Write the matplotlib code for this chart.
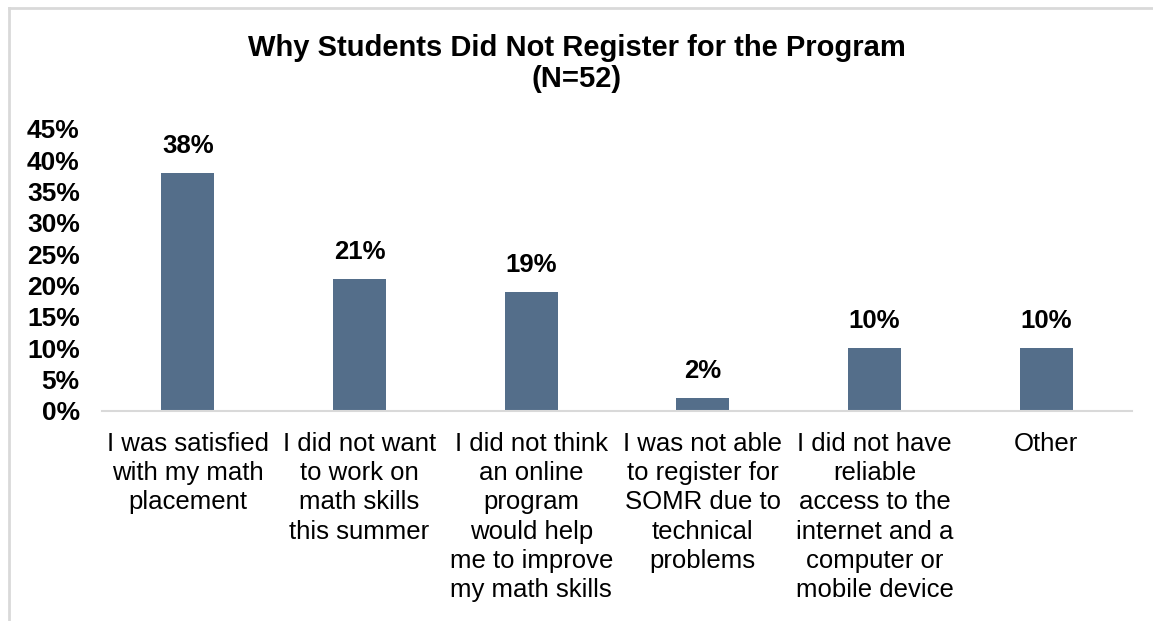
import matplotlib
matplotlib.use("Agg")
import matplotlib.pyplot as plt
from matplotlib.lines import Line2D

plt.rcParams['font.family'] = ['Liberation Sans', 'DejaVu Sans']

categories = [
    "I was satisfied\nwith my math\nplacement",
    "I did not want\nto work on\nmath skills\nthis summer",
    "I did not think\nan online\nprogram\nwould help\nme to improve\nmy math skills",
    "I was not able\nto register for\nSOMR due to\ntechnical\nproblems",
    "I did not have\nreliable\naccess to the\ninternet and a\ncomputer or\nmobile device",
    "Other",
]
percentages = [38, 21, 19, 2, 10, 10]
y_ticks = [0, 5, 10, 15, 20, 25, 30, 35, 40, 45]

bar_color = "#546E8A"

fig = plt.figure(figsize=(11.53, 6.21), dpi=100)
ax = fig.add_axes([0.0885, 0.3382, 0.8933, 0.4541])

x = range(len(categories))
bars = ax.bar(x, percentages, width=0.31, color=bar_color)

for rect, val in zip(bars, percentages):
    ax.annotate(f"{val}%", (rect.get_x() + rect.get_width() / 2, rect.get_height()),
                xytext=(0, 11), textcoords="offset points", ha="center", va="bottom",
                fontsize=18.5, fontweight="bold", color="black")

ax.set_xlim(-0.5, len(categories) - 0.5)
ax.set_ylim(0, 45)
ax.set_yticks(y_ticks)
ax.set_yticklabels([f"{v}%" for v in y_ticks], fontsize=19, fontweight="bold")
ax.set_xticks(list(x))
ax.set_xticklabels(categories, fontsize=18.5, linespacing=1.28, va="top")
ax.tick_params(axis="both", length=0)
ax.tick_params(axis="x", pad=15)
ax.tick_params(axis="y", pad=16)

for side in ("top", "right", "left"):
    ax.spines[side].set_visible(False)
ax.spines["bottom"].set_color("#d9d9d9")
ax.spines["bottom"].set_linewidth(1.5)

fig.text(0.5, 1 - 63.5 / 621, "Why Students Did Not Register for the Program\n(N=52)",
         ha="center", va="center", fontsize=21, fontweight="bold", linespacing=1.1)

# light frame around the chart area
frame_kw = dict(color="#d9d9d9", linewidth=2, transform=fig.transFigure)
fig.add_artist(Line2D([9 / 1153, 1.0], [1 - 8 / 621, 1 - 8 / 621], **frame_kw))
fig.add_artist(Line2D([9 / 1153, 9 / 1153], [0.0, 1 - 8 / 621], **frame_kw))

fig.savefig("out.png", dpi=100, facecolor="white")
